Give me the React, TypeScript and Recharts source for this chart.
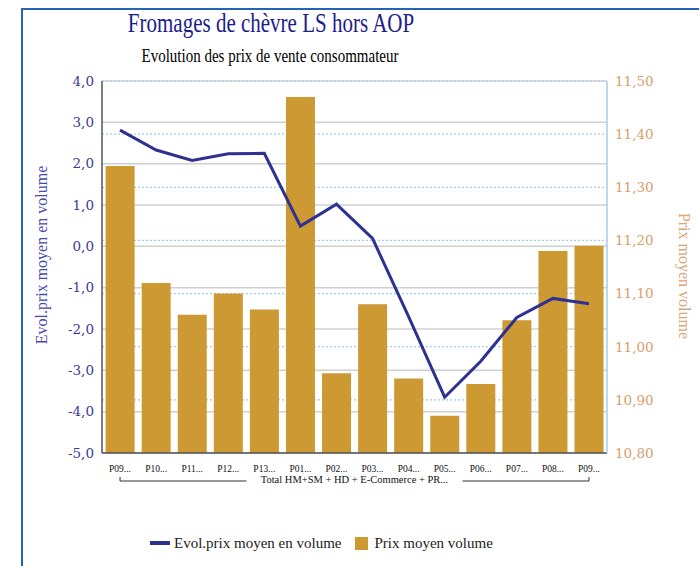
import { ComposedChart, Bar, Line, XAxis, YAxis, CartesianGrid } from "recharts";

const PERIODS = ["P09...", "P10...", "P11...", "P12...", "P13...", "P01...", "P02...", "P03...", "P04...", "P05...", "P06...", "P07...", "P08...", "P09..."];
const EVOL_PRIX = [2.81, 2.33, 2.08, 2.24, 2.25, 0.49, 1.02, 0.19, -1.7, -3.65, -2.78, -1.72, -1.26, -1.39];
const PRIX_MOYEN = [11.34, 11.12, 11.06, 11.1, 11.07, 11.47, 10.95, 11.08, 10.94, 10.87, 10.93, 11.05, 11.18, 11.19];
const LEFT_TICKS = [-5, -4, -3, -2, -1, 0, 1, 2, 3, 4];
const RIGHT_TICKS = [10.8, 10.9, 11.0, 11.1, 11.2, 11.3, 11.4, 11.5];
const GROUP_LABEL = "Total HM+SM + HD + E-Commerce + PR...";

const BLUE = "#2e3192";
const GOLD = "#cc9933";
const SERIF = "'Liberation Serif', serif";
const NUM_FONT = "'DejaVu Serif', serif";

const data = PERIODS.map((period, i) => ({
  idx: i,
  period,
  evol: EVOL_PRIX[i],
  prix: PRIX_MOYEN[i],
}));

const fmt1 = (v: number) => v.toFixed(1).replace(".", ",");
const fmt2 = (v: number) => v.toFixed(2).replace(".", ",");

function CategoryTick(props: any) {
  const { x, y, payload, index } = props;
  const n = PERIODS.length;
  const half = payload?.offset && payload.offset > 0 ? payload.offset : 18.04;
  const firstX = x - index * 2 * half;
  const lastX = x + (n - 1 - index) * 2 * half;
  const cx = (firstX + lastX) / 2;
  const gap = 108;
  return (
    <g>
      <text x={x} y={y + 10.5} textAnchor="middle" fontSize={9.5} fontFamily={SERIF} fill="#111">
        {PERIODS[payload.value] ?? payload.value}
      </text>
      {index === 0 && (
        <g stroke="#333" strokeWidth={1} fill="none">
          <line x1={firstX} y1={y + 16} x2={firstX} y2={y + 20} />
          <line x1={firstX} y1={y + 20} x2={cx - gap} y2={y + 20} />
          <line x1={cx + gap} y1={y + 20} x2={lastX} y2={y + 20} />
          <line x1={lastX} y1={y + 16} x2={lastX} y2={y + 20} />
          <text x={cx} y={y + 22} textAnchor="middle" fontSize={10.5} fontFamily={SERIF} fill="#111" stroke="none">
            {GROUP_LABEL}
          </text>
        </g>
      )}
    </g>
  );
}

export default function App() {
  return (
    <div style={{ position: "absolute", left: 0, top: 0, width: 699, height: 566, overflow: "hidden", background: "#fff" }}>
      {/* frame */}
      <div style={{ position: "absolute", left: 21, top: 8, width: 720, height: 620, borderLeft: "2px solid #2563b5", borderTop: "2px solid #2563b5" }} />

      {/* titles */}
      <div style={{ position: "absolute", left: 0, width: 542, top: 10, textAlign: "center", fontFamily: SERIF, fontSize: 21, color: "#1c1c8c", lineHeight: "26px", transform: "scaleY(1.3)" }}>
        Fromages de chèvre LS hors AOP
      </div>
      <div style={{ position: "absolute", left: 0, width: 540, top: 45, textAlign: "center", fontFamily: SERIF, fontSize: 15, color: "#000", lineHeight: "20px", transform: "scaleY(1.3)" }}>
        Evolution des prix de vente consommateur
      </div>

      <div style={{ position: "absolute", left: 0, top: 0 }}>
        <ComposedChart width={699} height={566} data={data} margin={{ top: 81, right: 0, bottom: 83, left: 0 }} barCategoryGap="10%">
          <CartesianGrid yAxisId="l" vertical={false} stroke="#d0d0d0" strokeWidth={1.5} />
          <CartesianGrid yAxisId="r" vertical={false} stroke="#9fcdf5" strokeDasharray="2 2" strokeWidth={1.2} />
          <XAxis
            dataKey="idx"
            type="category"
            height={30}
            interval={0}
            tickLine={false}
            axisLine={{ stroke: "#555", strokeWidth: 1.5 }}
            tick={<CategoryTick />}
          />
          <YAxis
            yAxisId="l"
            width={102}
            domain={[-5, 4]}
            ticks={LEFT_TICKS}
            interval={0}
            tickFormatter={fmt1}
            tickLine={false}
            axisLine={{ stroke: "#555", strokeWidth: 1.5 }}
            tick={{ fill: "#3b3b98", fontSize: 13.5, fontFamily: NUM_FONT }}
            tickMargin={2}
            label={{
              content: () => (
                <text x={47} y={255} transform="rotate(-90 47 255)" textAnchor="middle" fontSize={16} fontFamily={SERIF} fill="#4a4aa8">
                  Evol.prix moyen en volume
                </text>
              ),
            }}
          />
          <YAxis
            yAxisId="r"
            orientation="right"
            width={92}
            domain={[10.8, 11.5]}
            ticks={RIGHT_TICKS}
            interval={0}
            tickFormatter={fmt2}
            tickLine={false}
            axisLine={{ stroke: "#a9cbee", strokeWidth: 1.5 }}
            tick={{ fill: "#d6a06b", fontSize: 13.5, fontFamily: NUM_FONT }}
            tickMargin={2}
            label={{
              content: () => (
                <text x={679} y={276} transform="rotate(90 679 276)" textAnchor="middle" fontSize={16} fontFamily={SERIF} fill="#d8a878">
                  Prix moyen volume
                </text>
              ),
            }}
          />
          <Bar yAxisId="r" dataKey="prix" fill={GOLD} isAnimationActive={false} />
          <Line yAxisId="l" dataKey="evol" stroke={BLUE} strokeWidth={3} dot={false} isAnimationActive={false} />
        </ComposedChart>
      </div>

      {/* legend */}
      <div style={{ position: "absolute", left: 150, top: 534, height: 18, display: "flex", alignItems: "center", fontFamily: SERIF, fontSize: 15, color: "#222" }}>
        <span style={{ display: "inline-block", width: 20, height: 4, background: BLUE, marginRight: 4 }} />
        <span>Evol.prix moyen en volume</span>
        <span style={{ display: "inline-block", width: 13, height: 13, background: GOLD, marginLeft: 14, marginRight: 6 }} />
        <span>Prix moyen volume</span>
      </div>
    </div>
  );
}
